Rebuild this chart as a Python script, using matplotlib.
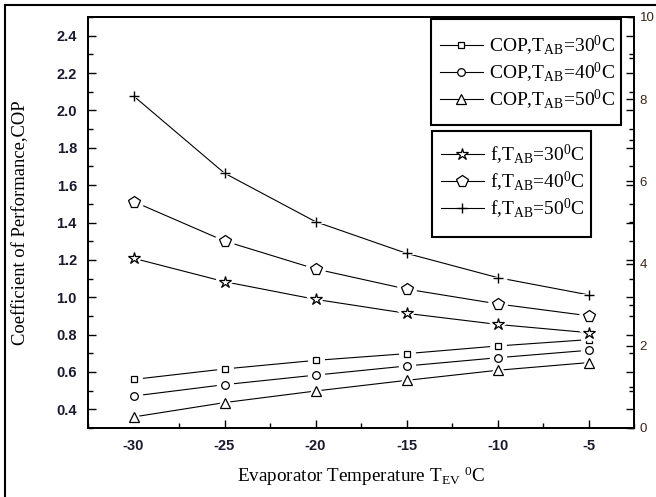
import matplotlib
matplotlib.use("Agg")
import matplotlib.pyplot as plt
from matplotlib.lines import Line2D
from matplotlib.patches import Rectangle
from matplotlib.ticker import MultipleLocator

# ---- data ----
t_ev = [-30, -25, -20, -15, -10, -5]
cop_30 = [0.56, 0.616, 0.662, 0.698, 0.739, 0.773]
cop_40 = [0.471, 0.532, 0.583, 0.632, 0.676, 0.716]
cop_50 = [0.359, 0.436, 0.498, 0.555, 0.609, 0.650]
f_30 = [4.13, 3.56, 3.13, 2.79, 2.52, 2.32]
f_40 = [5.51, 4.55, 3.87, 3.38, 3.02, 2.73]
f_50 = [8.08, 6.20, 5.02, 4.25, 3.66, 3.24]

x_ticks = [-30, -25, -20, -15, -10, -5]
cop_ticks = [0.4, 0.6, 0.8, 1.0, 1.2, 1.4, 1.6, 1.8, 2.0, 2.2, 2.4]
f_ticks = [0, 2, 4, 6, 8, 10]

cop_labels = [r'COP,T$_{\rm AB}$=30$^{\rm 0}$C',
              r'COP,T$_{\rm AB}$=40$^{\rm 0}$C',
              r'COP,T$_{\rm AB}$=50$^{\rm 0}$C']
f_labels = [r'f,T$_{\rm AB}$=30$^{\rm 0}$C',
            r'f,T$_{\rm AB}$=40$^{\rm 0}$C',
            r'f,T$_{\rm AB}$=50$^{\rm 0}$C']

plt.rcParams['mathtext.fontset'] = 'custom'
plt.rcParams['mathtext.rm'] = 'Liberation Serif'
plt.rcParams['mathtext.it'] = 'Liberation Serif:italic'
plt.rcParams['mathtext.bf'] = 'Liberation Serif:bold'

fig = plt.figure(figsize=(6.56, 4.97), dpi=100)
W, H = 656, 497
ax = fig.add_axes([88 / W, 1 - 428 / H, 546 / W, 411 / H])
ax2 = ax.twinx()

# outer frame (left and top visible)
fig.add_artist(Line2D([5 / W, 5 / W], [0, 1 - 5 / H], transform=fig.transFigure,
                      color='black', lw=1.5))
fig.add_artist(Line2D([5 / W, 1], [1 - 5 / H, 1 - 5 / H], transform=fig.transFigure,
                      color='black', lw=1.5))


def draw(axis, x, y, marker, ms, mew=0.9):
    axis.plot(x, y, '-', color='black', lw=0.8, zorder=2)
    axis.plot(x, y, linestyle='none', marker=marker, ms=ms + 5, mfc='white',
              mec='white', mew=2, zorder=3)
    axis.plot(x, y, linestyle='none', marker=marker, ms=ms, mfc='white',
              mec='black', mew=mew, zorder=4)


draw(ax, t_ev, cop_30, 's', 5)
draw(ax, t_ev, cop_40, 'o', 5.5)
draw(ax, t_ev, cop_50, '^', 7)
draw(ax2, t_ev, f_30, '*', 9)
draw(ax2, t_ev, f_40, 'p', 8.5)
draw(ax2, t_ev, f_50, '+', 7.5, mew=1.0)

ax.set_xlim(-32.5, -2.5)
ax.set_ylim(0.3, 2.5)
ax2.set_ylim(0, 10)

ax.xaxis.set_minor_locator(MultipleLocator(2.5))
ax.yaxis.set_minor_locator(MultipleLocator(0.1))
ax2.yaxis.set_minor_locator(MultipleLocator(1))

tickfont = dict(family='Liberation Sans', weight='bold', size=10.5)
ax.set_xticks(x_ticks)
ax.set_xticklabels(['%d' % v for v in x_ticks], fontdict=tickfont)
ax.set_yticks(cop_ticks)
ax.set_yticklabels(['%.1f' % v for v in cop_ticks], fontdict=tickfont)
ax2.set_yticks(f_ticks)
ax2.set_yticklabels([str(v) for v in f_ticks],
                    fontdict=dict(family='Liberation Sans', size=9.5))

ax.tick_params(axis='both', which='major', direction='in', length=6, width=1,
               right=True, top=False, labelcolor='#1a1a2e')
ax.tick_params(axis='both', which='minor', direction='in', length=3.5, width=1,
               right=True, top=False)
ax.tick_params(axis='x', pad=8)
ax.tick_params(axis='y', pad=8)
ax2.tick_params(axis='y', which='major', direction='in', length=6, width=1,
                labelcolor='#3a2418', pad=4)
ax2.tick_params(axis='y', which='minor', direction='in', length=3.5, width=1)

for a in (ax, ax2):
    for s in a.spines.values():
        s.set_linewidth(1.3)

ax.set_ylabel('Coefficient of Performance,COP', family='Liberation Serif',
              fontsize=13.4)
ax.yaxis.set_label_coords(-0.108, 0.5)
ax.set_xlabel(r'Evaporator Temperature T$_{\rm EV}$ $^{\rm 0}$C',
              family='Liberation Serif', fontsize=13.8, labelpad=8)


# legends: manual frames + frameless legends
def frame(x0, y0, x1, y1):
    r = Rectangle((x0 / W, 1 - y1 / H), (x1 - x0) / W, (y1 - y0) / H,
                  transform=fig.transFigure, facecolor='white',
                  edgecolor='black', lw=1.5, zorder=4.5, clip_on=False)
    ax2.add_patch(r)


frame(431, 19, 621, 125)
frame(432, 131, 591, 237)


def handle(marker, ms, mew=0.9):
    return Line2D([], [], color='black', lw=0.8, marker=marker, ms=ms,
                  mfc='white', mec='black', mew=mew)


h1 = [handle('s', 5), handle('o', 5.5), handle('^', 7)]
h2 = [handle('*', 9), handle('p', 8.5), handle('+', 7.5, 1.0)]
legkw = dict(prop=dict(family='Liberation Serif', size=14), frameon=False,
             handlelength=2.2, handletextpad=0.3,
             labelspacing=0.15, borderpad=0, borderaxespad=0,
             loc='upper left', bbox_transform=fig.transFigure)
leg1 = ax2.legend(h1, cop_labels, bbox_to_anchor=(440 / W, 1 - 34 / H), **legkw)
leg1.set_zorder(6)
ax2.add_artist(leg1)
leg2 = ax2.legend(h2, f_labels, bbox_to_anchor=(441 / W, 1 - 143 / H), **legkw)
leg2.set_zorder(6)

fig.savefig('out.png', dpi=100)
